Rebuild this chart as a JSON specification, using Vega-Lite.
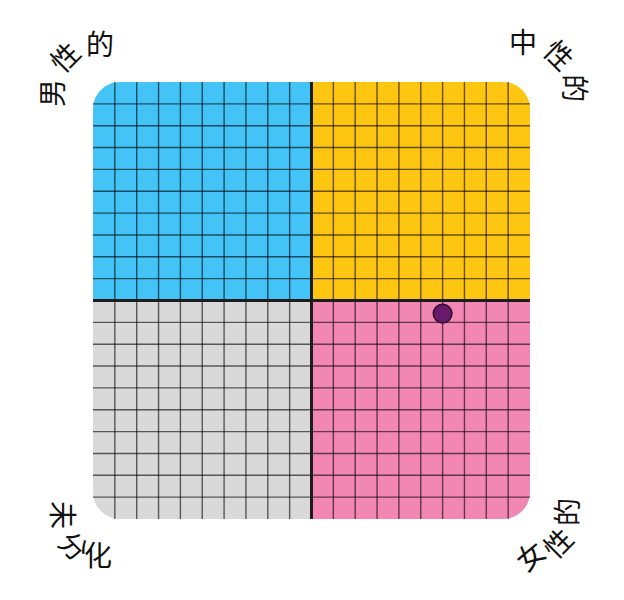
{
  "$schema": "https://vega.github.io/schema/vega-lite/v6.json",
  "autosize": {"type": "none"},
  "width": 437,
  "height": 437,
  "padding": {"left": 93, "top": 82, "right": 94, "bottom": 81},
  "background": "white",
  "config": {"view": {"stroke": null}, "text": {"font": "Noto Sans CJK SC", "fontSize": 28, "color": "#111111", "align": "center", "baseline": "middle"}},
  "datasets": {
    "quadrants": [
      {"q": "TL", "x": -10, "x2": 0, "y": 0, "y2": 10},
      {"q": "TR", "x": 0, "x2": 10, "y": 0, "y2": 10},
      {"q": "BL", "x": -10, "x2": 0, "y": -10, "y2": 0},
      {"q": "BR", "x": 0, "x2": 10, "y": -10, "y2": 0}
    ],
    "gridlines": [
      {"v": -9}, {"v": -8}, {"v": -7}, {"v": -6}, {"v": -5}, {"v": -4}, {"v": -3}, {"v": -2}, {"v": -1},
      {"v": 1}, {"v": 2}, {"v": 3}, {"v": 4}, {"v": 5}, {"v": 6}, {"v": 7}, {"v": 8}, {"v": 9}
    ]
  },
  "layer": [
    {
      "data": {"name": "quadrants"},
      "transform": [{"filter": "datum.q == 'TL'"}],
      "mark": {"type": "rect", "color": "#43C3F6", "cornerRadiusTopLeft": 27},
      "encoding": {
        "x": {"field": "x", "type": "quantitative", "scale": {"domain": [-10, 10], "nice": false, "zero": false}, "axis": null},
        "x2": {"field": "x2"},
        "y": {"field": "y", "type": "quantitative", "scale": {"domain": [-10, 10], "nice": false, "zero": false}, "axis": null},
        "y2": {"field": "y2"}
      }
    },
    {
      "data": {"name": "quadrants"},
      "transform": [{"filter": "datum.q == 'TR'"}],
      "mark": {"type": "rect", "color": "#FEC511", "cornerRadiusTopRight": 27},
      "encoding": {
        "x": {"field": "x", "type": "quantitative"},
        "x2": {"field": "x2"},
        "y": {"field": "y", "type": "quantitative"},
        "y2": {"field": "y2"}
      }
    },
    {
      "data": {"name": "quadrants"},
      "transform": [{"filter": "datum.q == 'BL'"}],
      "mark": {"type": "rect", "color": "#D9D9D9", "cornerRadiusBottomLeft": 27},
      "encoding": {
        "x": {"field": "x", "type": "quantitative"},
        "x2": {"field": "x2"},
        "y": {"field": "y", "type": "quantitative"},
        "y2": {"field": "y2"}
      }
    },
    {
      "data": {"name": "quadrants"},
      "transform": [{"filter": "datum.q == 'BR'"}],
      "mark": {"type": "rect", "color": "#F287B3", "cornerRadiusBottomRight": 27},
      "encoding": {
        "x": {"field": "x", "type": "quantitative"},
        "x2": {"field": "x2"},
        "y": {"field": "y", "type": "quantitative"},
        "y2": {"field": "y2"}
      }
    },
    {
      "data": {"name": "gridlines"},
      "mark": {"type": "rule", "color": "#000000", "opacity": 0.6, "strokeWidth": 1.4},
      "encoding": {"x": {"field": "v", "type": "quantitative"}}
    },
    {
      "data": {"name": "gridlines"},
      "mark": {"type": "rule", "color": "#000000", "opacity": 0.6, "strokeWidth": 1.4},
      "encoding": {"y": {"field": "v", "type": "quantitative"}}
    },
    {
      "data": {"values": [{"x": 0}]},
      "mark": {"type": "rule", "color": "#1c1c1c", "strokeWidth": 3},
      "encoding": {"x": {"field": "x", "type": "quantitative"}}
    },
    {
      "data": {"values": [{"y": 0}]},
      "mark": {"type": "rule", "color": "#1c1c1c", "strokeWidth": 3},
      "encoding": {"y": {"field": "y", "type": "quantitative"}}
    },
    {
      "data": {"values": [{"x": 6.0, "y": -0.6}]},
      "mark": {"type": "point", "shape": "circle", "filled": true, "size": 350, "color": "#661A69", "fill": "#661A69", "fillOpacity": 1, "stroke": "#300833", "strokeOpacity": 1, "strokeWidth": 1.5, "opacity": 1},
      "encoding": {
        "x": {"field": "x", "type": "quantitative"},
        "y": {"field": "y", "type": "quantitative"}
      }
    },
    {
      "data": {"values": [
        {"ch": "的", "x": -9.68, "y": 11.6},
        {"ch": "中", "x": 9.68, "y": 11.69},
        {"ch": "化", "x": -9.77, "y": -11.78}
      ]},
      "mark": {"type": "text", "angle": 0},
      "encoding": {
        "x": {"field": "x", "type": "quantitative"},
        "y": {"field": "y", "type": "quantitative"},
        "text": {"field": "ch"}
      }
    },
    {
      "data": {"values": [
        {"ch": "性", "x": 11.24, "y": 11.14},
        {"ch": "分", "x": -10.96, "y": -11.33}
      ]},
      "mark": {"type": "text", "angle": 45},
      "encoding": {
        "x": {"field": "x", "type": "quantitative"},
        "y": {"field": "y", "type": "quantitative"},
        "text": {"field": "ch"}
      }
    },
    {
      "data": {"values": [
        {"ch": "的", "x": 11.92, "y": 9.71},
        {"ch": "未", "x": -11.51, "y": -9.82}
      ]},
      "mark": {"type": "text", "angle": 90},
      "encoding": {
        "x": {"field": "x", "type": "quantitative"},
        "y": {"field": "y", "type": "quantitative"},
        "text": {"field": "ch"}
      }
    },
    {
      "data": {"values": [
        {"ch": "性", "x": -11.19, "y": 11.05},
        {"ch": "性", "x": 11.37, "y": -11.19}
      ]},
      "mark": {"type": "text", "angle": -45},
      "encoding": {
        "x": {"field": "x", "type": "quantitative"},
        "y": {"field": "y", "type": "quantitative"},
        "text": {"field": "ch"}
      }
    },
    {
      "data": {"values": [
        {"ch": "男", "x": -11.74, "y": 9.5},
        {"ch": "的", "x": 11.83, "y": -9.68}
      ]},
      "mark": {"type": "text", "angle": -90},
      "encoding": {
        "x": {"field": "x", "type": "quantitative"},
        "y": {"field": "y", "type": "quantitative"},
        "text": {"field": "ch"}
      }
    },
    {
      "data": {"values": [
        {"ch": "女", "x": 10.09, "y": -11.78}
      ]},
      "mark": {"type": "text", "angle": -40},
      "encoding": {
        "x": {"field": "x", "type": "quantitative"},
        "y": {"field": "y", "type": "quantitative"},
        "text": {"field": "ch"}
      }
    }
  ]
}
